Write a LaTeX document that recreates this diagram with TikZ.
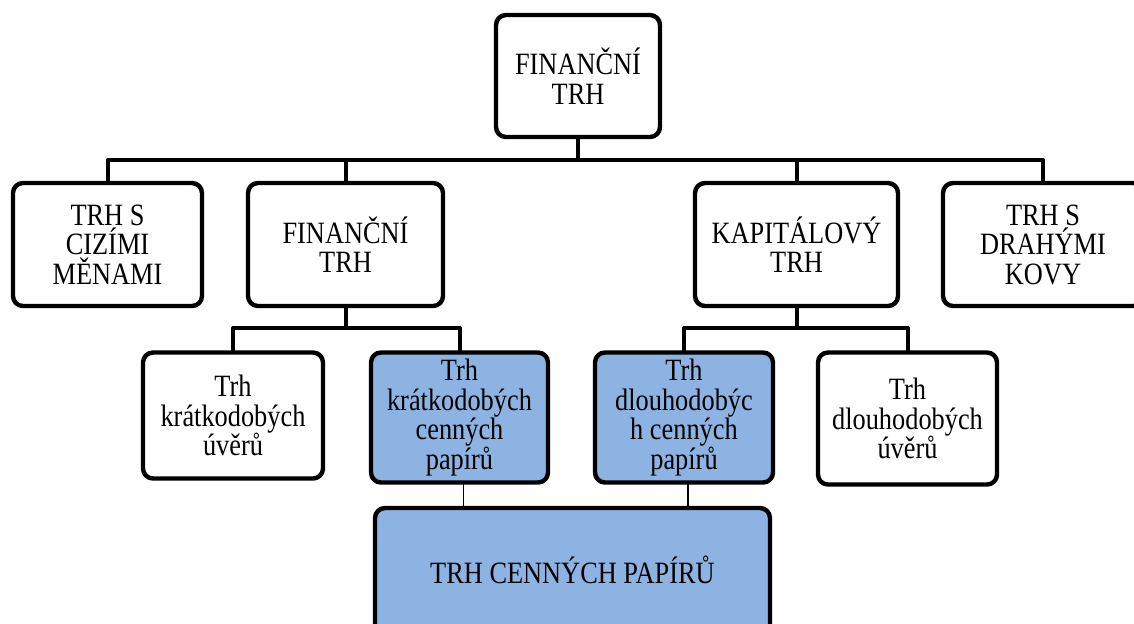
\documentclass[tikz,border=0pt]{standalone}
\usepackage{fontspec}
\setmainfont[FakeStretch=0.85]{Liberation Serif}
\begin{document}
\begin{tikzpicture}[x=0.5pt, y=-0.5pt, line cap=rect, line join=round,
  box/.style={draw, line width=2.2pt, rounded corners=5pt, align=center, inner sep=0pt,
    font=\fontsize{15.5}{14.75}\selectfont},
  bluebox/.style={box, fill=papirblue},
  link/.style={line width=2pt},
  thinlink/.style={line width=0.8pt}]
  \definecolor{papirblue}{RGB}{141,179,226}
  \useasboundingbox (0,0) rectangle (1134,623);
  \node[box, minimum width=82pt, minimum height=61pt] (top) at (578,76) {FINANČNÍ\\TRH};
  \node[box, minimum width=94.5pt, minimum height=61.5pt] (cizi) at (107.5,244.5) {TRH S\\CIZÍMI\\MĚNAMI};
  \node[box, minimum width=97.5pt, minimum height=61.5pt] (fin) at (345.5,244.5) {FINANČNÍ\\TRH};
  \node[box, minimum width=101.5pt, minimum height=61.5pt] (kap) at (796.5,244.5) {KAPITÁLOVÝ\\TRH};
  \node[box, minimum width=100pt, minimum height=61.5pt] (drah) at (1043,244.5) {TRH S\\DRAHÝMI\\KOVY};
  \node[box, minimum width=90pt, minimum height=63pt] (kru) at (233,415.5) {Trh\\krátkodobých\\úvěrů};
  \node[bluebox, minimum width=88.5pt, minimum height=65pt] (kcp) at (459.5,417.5) {Trh\\krátkodobých\\cenných\\papírů};
  \node[bluebox, minimum width=89pt, minimum height=65pt] (dcp) at (684,417.5) {Trh\\dlouhodobýc\\h cenných\\papírů};
  \node[box, minimum width=89.5pt, minimum height=66pt] (du) at (907.5,418.5) {Trh\\dlouhodobých\\úvěrů};
  \node[bluebox, minimum width=197.5pt, minimum height=64pt] (tcp) at (572.5,572) {\raisebox{2pt}{TRH CENNÝCH PAPÍRŮ}};
  \coordinate (bus) at (578,160);
  \coordinate (busf) at (345.5,328);
  \coordinate (busk) at (796.5,328);
  \draw[link] (top.south) -- (bus);
  \draw[link] (cizi.north) -- (cizi.north |- bus) -- (drah.north |- bus) -- (drah.north);
  \draw[link] (fin.north) -- (fin.north |- bus);
  \draw[link] (kap.north) -- (kap.north |- bus);
  \draw[link] (fin.south) -- (busf);
  \draw[link] (kru.north) -- (kru.north |- busf) -- (kcp.north |- busf) -- (kcp.north);
  \draw[link] (kap.south) -- (busk);
  \draw[link] (dcp.north) -- (dcp.north |- busk) -- (du.north |- busk) -- (du.north);
  \draw[thinlink] ([xshift=2pt]kcp.south) -- ([xshift=2pt]kcp.south |- tcp.north);
  \draw[thinlink] ([xshift=2pt]dcp.south) -- ([xshift=2pt]dcp.south |- tcp.north);
\end{tikzpicture}
\end{document}
